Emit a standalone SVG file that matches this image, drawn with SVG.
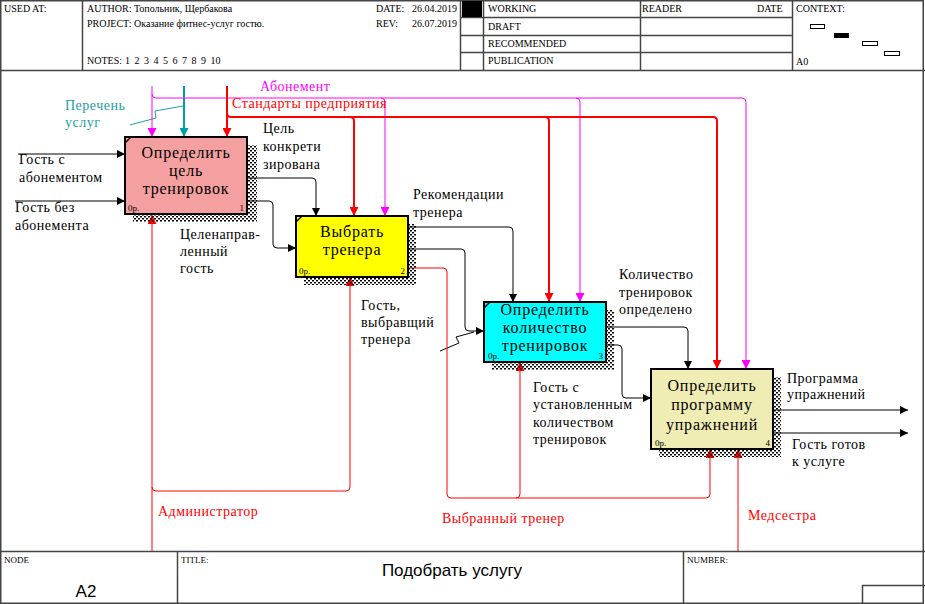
<svg xmlns="http://www.w3.org/2000/svg" width="925" height="604" viewBox="0 0 925 604">
<defs>
<pattern id="chk" width="4" height="4" patternUnits="userSpaceOnUse">
<rect x="0" y="0" width="2" height="1.5" fill="#000"/>
<rect x="2" y="2" width="2" height="1.5" fill="#000"/>
</pattern>
<marker id="ak" viewBox="0 0 10 10" refX="10" refY="5" markerWidth="8" markerHeight="8" markerUnits="userSpaceOnUse" orient="auto"><path d="M0,0 L10,5 L0,10 z" fill="#000"/></marker>
<marker id="ar" viewBox="0 0 10 10" refX="10" refY="5" markerWidth="9" markerHeight="9" markerUnits="userSpaceOnUse" orient="auto"><path d="M0,0 L10,5 L0,10 z" fill="#FF0000"/></marker>
<marker id="am" viewBox="0 0 10 10" refX="10" refY="5" markerWidth="9" markerHeight="9" markerUnits="userSpaceOnUse" orient="auto"><path d="M0,0 L10,5 L0,10 z" fill="#FF00FF"/></marker>
<marker id="at" viewBox="0 0 10 10" refX="10" refY="5" markerWidth="9" markerHeight="9" markerUnits="userSpaceOnUse" orient="auto"><path d="M0,0 L10,5 L0,10 z" fill="#00A0A0"/></marker>
</defs>
<style>
.fr{fill:none;stroke:#444;stroke-width:1.5}
.hd{font-family:"Liberation Serif","Times New Roman",serif;font-size:10px;fill:#000}
.lb{font-family:"Liberation Serif","Times New Roman",serif;font-size:14px;letter-spacing:0.5px;fill:#000}
.nt{font-family:"Liberation Serif","Times New Roman",serif;font-size:16px;letter-spacing:0.8px;fill:#000;text-anchor:middle}
.sm{font-family:"Liberation Serif","Times New Roman",serif;font-size:9px;fill:#000}
.box{stroke:#000;stroke-width:2}
.k{fill:none;stroke:#000;stroke-width:1}
.r{fill:none;stroke:#FF0000;stroke-width:1}
.r2{fill:none;stroke:#FF0000;stroke-width:2}
.m{fill:none;stroke:#FF00FF;stroke-width:1}
.t{fill:none;stroke:#00A0A0;stroke-width:2}
.red{fill:#FF0000}
.mag{fill:#FF00FF}
.teal{fill:#1FA0A0}
</style>
<g id="frame">
<rect x="0.75" y="0.75" width="922.5" height="602.5" class="fr"/>
<line x1="0" y1="70.5" x2="925" y2="70.5" class="fr"/>
<line x1="82.5" y1="0" x2="82.5" y2="70" class="fr"/>
<line x1="460.5" y1="0" x2="460.5" y2="70" class="fr"/>
<line x1="483.5" y1="0" x2="483.5" y2="70" class="fr"/>
<line x1="640.5" y1="0" x2="640.5" y2="70" class="fr"/>
<line x1="792.5" y1="0" x2="792.5" y2="70" class="fr"/>
<line x1="460" y1="17.5" x2="792" y2="17.5" class="fr"/>
<line x1="460" y1="35.5" x2="792" y2="35.5" class="fr"/>
<line x1="460" y1="52.5" x2="792" y2="52.5" class="fr"/>
<rect x="462" y="1" width="20" height="16" fill="#000"/>
<rect x="810.5" y="24.5" width="14" height="4" fill="none" stroke="#000"/>
<rect x="834" y="33" width="15" height="5" fill="#000"/>
<rect x="862.5" y="41.5" width="15" height="4" fill="none" stroke="#000"/>
<rect x="884.5" y="51.5" width="15" height="4" fill="none" stroke="#000"/>
<text x="4" y="12" class="hd">USED AT:</text>
<text x="87" y="12" class="hd">AUTHOR:  Топольник, Щербакова</text>
<text x="87" y="27" class="hd">PROJECT:  Оказание фитнес-услуг гостю.</text>
<text x="87" y="64" class="hd">NOTES:</text>
<text y="64" class="hd"><tspan x="125">1</tspan><tspan x="134.5">2</tspan><tspan x="144">3</tspan><tspan x="153.5">4</tspan><tspan x="163">5</tspan><tspan x="172.5">6</tspan><tspan x="182">7</tspan><tspan x="191.5">8</tspan><tspan x="201">9</tspan><tspan x="210.5">10</tspan></text>
<text x="376" y="12" class="hd">DATE:</text>
<text x="412" y="12" class="hd">26.04.2019</text>
<text x="376" y="27" class="hd">REV:</text>
<text x="412" y="27" class="hd">26.07.2019</text>
<text x="488" y="12" class="hd">WORKING</text>
<text x="488" y="30" class="hd">DRAFT</text>
<text x="488" y="47" class="hd">RECOMMENDED</text>
<text x="488" y="64" class="hd">PUBLICATION</text>
<text x="642" y="12" class="hd">READER</text>
<text x="757" y="12" class="hd">DATE</text>
<text x="796" y="12" class="hd">CONTEXT:</text>
<text x="796" y="65" class="hd">A0</text>
<line x1="0" y1="551.5" x2="925" y2="551.5" class="fr"/>
<line x1="177.5" y1="551" x2="177.5" y2="604" class="fr"/>
<line x1="683.5" y1="551" x2="683.5" y2="604" class="fr"/>
<line x1="862" y1="585.5" x2="925" y2="585.5" class="fr"/>
<line x1="862.5" y1="585" x2="862.5" y2="604" class="fr"/>
<text x="4" y="563" class="sm">NODE</text>
<text x="181" y="563" class="sm">TITLE:</text>
<text x="687" y="563" class="sm">NUMBER:</text>
<text x="86" y="597" font-family="'Liberation Sans Narrow','Liberation Sans',Arial,sans-serif" font-size="17" text-anchor="middle">A2</text>
<text x="452" y="576" font-family="'Liberation Sans Narrow','Liberation Sans',Arial,sans-serif" font-size="17" text-anchor="middle">Подобрать  услугу</text>
</g>
<g id="connectors">
<path class="k" d="M18,154 H125" marker-end="url(#ak)"/>
<path class="k" d="M15,201 H125" marker-end="url(#ak)"/>
<path class="k" d="M247,178 H312 Q316,178 316,182 V216" marker-end="url(#ak)"/>
<path class="k" d="M247,201 H269 Q273,201 273,205 V244 Q273,248 277,248 H296" marker-end="url(#ak)"/>
<path class="k" stroke-width="2" d="M408,227 H509 Q513,227 513,231 V302" marker-end="url(#ak)"/>
<path class="k" d="M408,249 H461 Q465,249 465,253 V327 Q465,331 469,331 H484" marker-end="url(#ak)"/>
<polyline class="k" points="440,351 459,343 456,337 474,332"/>
<path class="k" d="M606,327 H684 Q688,327 688,331 V369" marker-end="url(#ak)"/>
<path class="k" d="M606,345 H618 Q622,345 622,349 V394 Q622,398 626,398 H651" marker-end="url(#ak)"/>
<path class="k" d="M773,410 H908" marker-end="url(#ak)"/>
<path class="k" d="M773,433 H908" marker-end="url(#ak)"/>
<path class="t" d="M184,86 V137" marker-end="url(#at)"/>
<polyline fill="none" stroke="#1FA0A0" stroke-width="1" points="130,125 156,118 155,111 183,106"/>
<path class="m" d="M152,86 V137" marker-end="url(#am)"/>
<path class="m" d="M152,94 Q152,98 156,98 H742 Q746,98 746,102 V369" marker-end="url(#am)"/>
<path class="m" d="M381,98 Q385,98 385,102 V216" marker-end="url(#am)"/>
<path class="m" d="M576,98 Q580,98 580,102 V302" marker-end="url(#am)"/>
<path class="r2" d="M227,86 V137" marker-end="url(#ar)"/>
<path class="r2" d="M227,113 Q227,117 231,117 H713 Q717,117 717,121 V369" marker-end="url(#ar)"/>
<path class="r2" d="M350,117 Q354,117 354,121 V216" marker-end="url(#ar)"/>
<path class="r2" d="M545,117 Q549,117 549,121 V302" marker-end="url(#ar)"/>
<path class="r" d="M152,551 V215" marker-end="url(#ar)"/>
<path class="r" d="M152,487 Q152,491 156,491 H346 Q350,491 350,487 V277" marker-end="url(#ar)"/>
<path class="r" d="M408,268 H443 Q447,268 447,272 V494 Q447,498 451,498 H706 Q710,498 710,494 V449" marker-end="url(#ar)"/>
<path class="r" d="M516,498 Q520,498 520,494 V362" marker-end="url(#ar)"/>
<path class="r" d="M738,551 V449" marker-end="url(#ar)"/>
<text x="260" y="91" class="lb mag">Абонемент</text>
<text x="65" y="110" class="lb teal">Перечень</text>
<text x="65" y="127" class="lb teal">услуг</text>
<text x="232" y="108" class="lb red">Стандарты предприятия</text>
<text x="263" y="133" class="lb">Цель</text>
<text x="263" y="151" class="lb">конкрети</text>
<text x="263" y="169" class="lb">зирована</text>
<text x="19" y="164" class="lb">Гость с</text>
<text x="19" y="182" class="lb">абонементом</text>
<text x="15" y="212" class="lb">Гость без</text>
<text x="15" y="230" class="lb">абонемента</text>
<text x="180" y="239" class="lb">Целенаправ-</text>
<text x="180" y="256" class="lb">ленный</text>
<text x="180" y="273" class="lb">гость</text>
<text x="413" y="199" class="lb">Рекомендации</text>
<text x="413" y="217" class="lb">тренера</text>
<text x="361" y="310" class="lb">Гость,</text>
<text x="361" y="327" class="lb">выбравщий</text>
<text x="361" y="344" class="lb">тренера</text>
<text x="619" y="279" class="lb">Количество</text>
<text x="619" y="297" class="lb">тренировок</text>
<text x="619" y="314" class="lb">определено</text>
<text x="533" y="392" class="lb">Гость с</text>
<text x="533" y="409" class="lb">установленным</text>
<text x="533" y="427" class="lb">количеством</text>
<text x="533" y="444" class="lb">тренировок</text>
<text x="787" y="383" class="lb">Программа</text>
<text x="787" y="399" class="lb">упражнений</text>
<text x="792" y="449" class="lb">Гость готов</text>
<text x="792" y="466" class="lb">к услуге</text>
<text x="158" y="516" class="lb red">Администратор</text>
<text x="442" y="523" class="lb red">Выбранный тренер</text>
<text x="748" y="520" class="lb red">Медсестра</text>
</g>
<g id="node1">
<rect x="133" y="145" width="124" height="77" fill="url(#chk)"/>
<rect x="125" y="137" width="122" height="77" fill="#F4A0A0" class="box"/>
<path d="M125,143 L131,137" stroke="#000" stroke-width="1.5"/>
<text x="186" y="158" class="nt">Определить</text>
<text x="186" y="176" class="nt">цель</text>
<text x="186" y="194" class="nt">тренировок</text>
<text x="128" y="211" class="sm">0р.</text>
<text x="244" y="211" class="sm" text-anchor="end">1</text>
</g>
<g id="node2">
<rect x="304" y="224" width="112" height="61" fill="url(#chk)"/>
<rect x="296" y="216" width="112" height="61" fill="#FFFF00" class="box"/>
<path d="M296,222 L302,216" stroke="#000" stroke-width="1.5"/>
<text x="352" y="237" class="nt">Выбрать</text>
<text x="352" y="255" class="nt">тренера</text>
<text x="299" y="274" class="sm">0р.</text>
<text x="405" y="274" class="sm" text-anchor="end">2</text>
</g>
<g id="node3">
<rect x="492" y="310" width="122" height="60" fill="url(#chk)"/>
<rect x="484" y="302" width="122" height="60" fill="#00FFFF" class="box"/>
<path d="M484,308 L490,302" stroke="#000" stroke-width="1.5"/>
<text x="545" y="315" class="nt">Определить</text>
<text x="545" y="333" class="nt">количество</text>
<text x="545" y="351" class="nt">тренировок</text>
<text x="488" y="359" class="sm">0р.</text>
<text x="603" y="359" class="sm" text-anchor="end">3</text>
</g>
<g id="node4">
<rect x="659" y="377" width="122" height="80" fill="url(#chk)"/>
<rect x="651" y="369" width="122" height="80" fill="#F0EDB4" class="box"/>
<text x="712" y="391" class="nt">Определить</text>
<text x="712" y="410" class="nt">программу</text>
<text x="712" y="430" class="nt">упражнений</text>
<text x="655" y="446" class="sm">0р.</text>
<text x="770" y="446" class="sm" text-anchor="end">4</text>
</g>
</svg>
